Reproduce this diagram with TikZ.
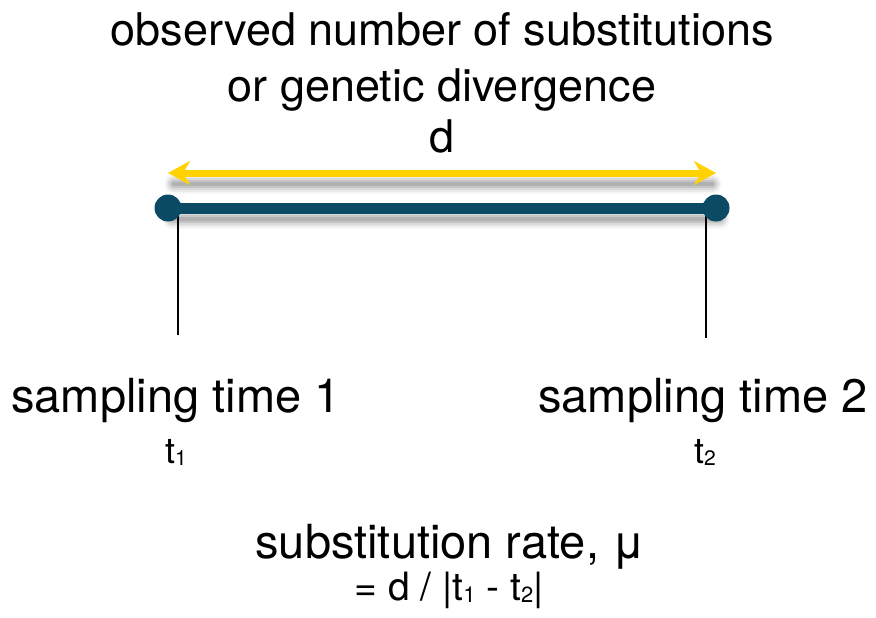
\documentclass[tikz,border=0pt]{standalone}
\usepackage{fontspec}
\setmainfont{TeX Gyre Heros}
\usetikzlibrary{arrows.meta}
\definecolor{barblue}{HTML}{0B4A64}
\definecolor{arrowyellow}{HTML}{FFD200}
\newcommand\mysub[2]{\raisebox{-2pt}{\fontsize{#1}{#1}\selectfont #2}}
\tikzset{
  lbl/.style={anchor=base, inner sep=0pt, text=black},
  titletext/.style={lbl, font=\fontsize{45}{50}\selectfont},
  bigtext/.style={lbl, font=\fontsize{47}{52}\selectfont},
  ttext/.style={lbl, font=\fontsize{36}{40}\selectfont},
  formtext/.style={lbl, font=\fontsize{39}{42}\selectfont},
  tick/.style={line width=2pt, black},
  endcirc/.style={circle, fill=barblue, minimum size=27pt, inner sep=0pt},
}
\begin{document}
\begin{tikzpicture}[x=1pt, y=-1pt]
\useasboundingbox (0,0) rectangle (876,618);
% titles
\node[titletext] (title1) at (442,46) {observed number of substitutions};
\node[titletext] (title2) at (442,102) {or genetic divergence};
\node[titletext] (dlab) at (442,152) {d};
% shadows
\foreach \w/\o in {20/0.03,16/0.05,12/0.07,8/0.09,4/0.10}{
  \draw[line width=\w pt, black, opacity=\o, line cap=round] (174,184) -- (712,184);
  \draw[line width=\w pt, black, opacity=\o, line cap=round] (172,219) -- (720,219);
}
% yellow arrow
\coordinate (aL) at (168,173);
\coordinate (aR) at (716,173);
\draw[arrowyellow, line width=7pt, {Stealth[length=22pt,width=24pt,inset=7pt]}-{Stealth[length=22pt,width=24pt,inset=7pt]}] (aL) -- (aR);
% ticks
\coordinate (tL) at (178,335);
\coordinate (tR) at (706,338);
\coordinate (bL) at (178,208);
\coordinate (bR) at (706,208);
\draw[tick] (bL) -- (tL);
\draw[tick] (bR) -- (tR);
% bar
\node[endcirc] (c1) at (168,208) {};
\node[endcirc] (c2) at (716,208) {};
\draw[barblue, line width=11pt] (c1.center) -- (c2.center);
% labels
\node[bigtext] (s1) at (176,412) {sampling time 1};
\node[bigtext] (s2) at (703,412) {sampling time 2};
\node[ttext] (t1) at (176,463) {t\mysub{21}{1}};
\node[ttext] (t2) at (705,463) {t\mysub{21}{2}};
\node[bigtext] (rate) at (450,558) {substitution rate, μ};
\node[formtext] (form) at (449,600) {= d / |t\mysub{22}{1} - t\mysub{22}{2}|};
\end{tikzpicture}
\end{document}
